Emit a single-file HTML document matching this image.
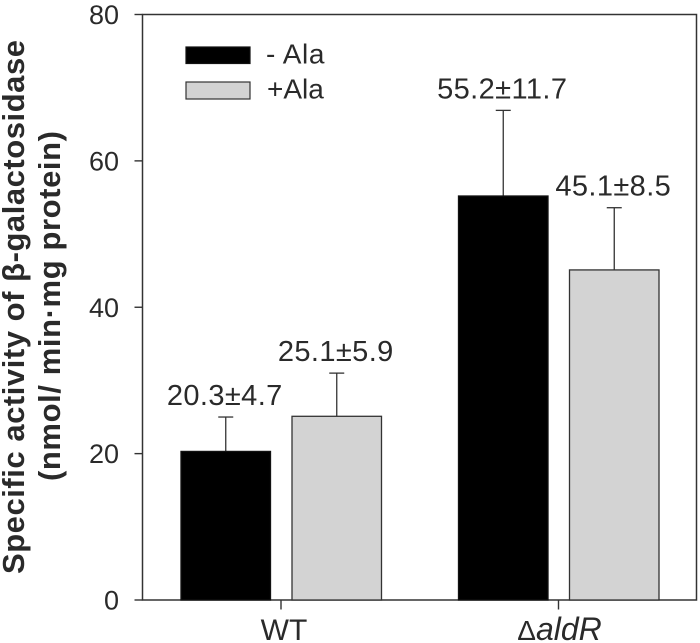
<!DOCTYPE html>
<html>
<head>
<meta charset="utf-8">
<style>
html,body{margin:0;padding:0;background:#fff;width:700px;height:643px;overflow:hidden}
svg{display:block;font-family:"Liberation Sans",sans-serif;filter:blur(0.35px)}
text{fill:#2a2a2a}
</style>
</head>
<body>
<svg id="chart" width="700" height="643" viewBox="0 0 700 643" xmlns="http://www.w3.org/2000/svg"></svg>
<script>
const categories = ['WT', 'aldR'];
const withoutAla = [20.3, 55.2];
const withAla = [25.1, 45.1];
const withoutAlaErr = [4.7, 11.7];
const withAlaErr = [5.9, 8.5];
const valueLabels = [['20.3±4.7', '55.2±11.7'], ['25.1±5.9', '45.1±8.5']];
const yTicks = [0, 20, 40, 60, 80];
const legendLabels = ['- Ala', '+Ala'];

const svg = document.getElementById('chart');
const NS = 'http://www.w3.org/2000/svg';
const plot = {l: 142.5, r: 696.5, t: 14.5, b: 600};
const yMax = 80;
const y = v => plot.b - (v / yMax) * (plot.b - plot.t);
const groupCenter = i => 281 + i * 277.5;
const barLeft = (i, s) => groupCenter(i) + (s === 0 ? -100 : 11);
const barW = 89.5;
const AXIS = '#333';

function add(tag, attrs, text) {
  const el = document.createElementNS(NS, tag);
  for (const k in attrs) el.setAttribute(k, attrs[k]);
  if (text !== undefined) el.textContent = text;
  svg.appendChild(el);
  return el;
}
function line(x1, y1, x2, y2, w) {
  return add('line', {x1, y1, x2, y2, stroke: AXIS, 'stroke-width': w || 1.4});
}

// plot frame
let el = add('rect', {x: plot.l, y: plot.t, width: plot.r - plot.l, height: plot.b - plot.t, fill: 'none', stroke: AXIS, 'stroke-width': 1.5});



// y ticks
yTicks.forEach(t => {
  const tk = line(134.5, y(t), plot.l, y(t));
  
  
  const lb = add('text', {x: 119, y: y(t) + 9.5, 'text-anchor': 'end', 'font-size': 27}, String(t));
  
  
});

// bars
[withoutAla, withAla].forEach((series, s) => {
  const errs = s === 0 ? withoutAlaErr : withAlaErr;
  series.forEach((v, i) => {
    const x = barLeft(i, s);
    const cx = x + barW / 2;
    const topErr = y(v + errs[i]);
    const eb = line(cx, y(v), cx, topErr, 1.3);
    
    
    const cap = line(cx - 7.5, topErr, cx + 7.5, topErr, 1.3);
    
    
    const b = add('rect', {x, y: y(v), width: barW, height: plot.b - y(v), fill: s === 0 ? '#000' : '#d3d3d3', stroke: s === 0 ? '#111' : '#333', 'stroke-width': 1.3});
    
    
    const lab = add('text', {x: cx - 1, y: topErr - 12, 'text-anchor': 'middle', 'font-size': 29, 'letter-spacing': 0.4}, valueLabels[s][i]);
    
    
  });
});

// x ticks and labels
categories.forEach((c, i) => {
  const tk = line(groupCenter(i), plot.b, groupCenter(i), plot.b + 9.5);
  
  
});
el = add('text', {x: 284, y: 640, 'text-anchor': 'middle', 'font-size': 30}, 'WT');


el = add('text', {x: 559.5, y: 640, 'text-anchor': 'middle', 'font-size': 32});


const dl = document.createElementNS(NS, 'tspan');
dl.textContent = 'Δ';
dl.setAttribute('font-size', '28');
el.appendChild(dl);
const it = document.createElementNS(NS, 'tspan');
it.textContent = categories[1];
it.setAttribute('font-style', 'italic');
el.appendChild(it);

// legend
legendLabels.forEach((t, i) => {
  const yy = 47 + i * 35;
  const r = add('rect', {x: 186, y: yy, width: 64, height: i === 0 ? 16.5 : 17, fill: i === 0 ? '#000' : '#d3d3d3', stroke: i === 0 ? '#111' : '#333', 'stroke-width': 1.2});
  
  
  const lt = add('text', {x: i === 0 ? 266 : 267, y: yy + 16.5, 'font-size': 28, 'letter-spacing': i === 0 ? 0.6 : 0}, t);
  
  
});

// y axis title
el = add('text', {transform: 'translate(24,574) rotate(-90)', 'font-size': 31, 'font-weight': 'bold', textLength: 534, lengthAdjust: 'spacing'}, 'Specific activity of β-galactosidase');


el = add('text', {transform: 'translate(60,481) rotate(-90)', 'font-size': 31, 'font-weight': 'bold', textLength: 350, lengthAdjust: 'spacing'}, '(nmol/ min·mg protein)');


</script>
</body>
</html>
